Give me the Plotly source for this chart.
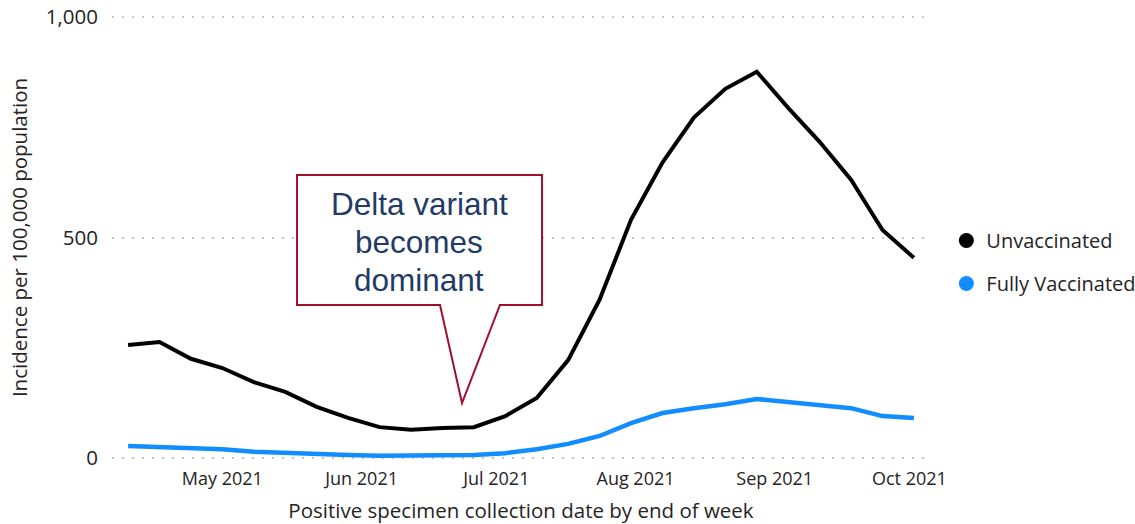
import plotly.graph_objects as go

# Weekly incidence per 100,000 (week ending Saturday)
weeks = [
    "2021-04-10", "2021-04-17", "2021-04-24", "2021-05-01", "2021-05-08",
    "2021-05-15", "2021-05-22", "2021-05-29", "2021-06-05", "2021-06-12",
    "2021-06-19", "2021-06-26", "2021-07-03", "2021-07-10", "2021-07-17",
    "2021-07-24", "2021-07-31", "2021-08-07", "2021-08-14", "2021-08-21",
    "2021-08-28", "2021-09-04", "2021-09-11", "2021-09-18", "2021-09-25",
    "2021-10-02",
]
unvaccinated = [
    256, 263, 225, 204, 172, 150, 116, 91, 70, 64, 68, 70, 95,
    136, 222, 359, 540, 670, 772, 837, 876, 794, 717, 631, 517, 454,
]
fully_vaccinated = [
    27, 25, 23, 20, 14, 11, 9, 7, 5, 5, 5, 7, 11,
    20, 32, 50, 79, 102, 113, 122, 134, 127, 120, 113, 95, 91,
]
month_ticks = ["2021-05-01", "2021-06-01", "2021-07-01", "2021-08-01", "2021-09-01", "2021-10-01"]
y_ticks = [0, 500, 1000]
callout_lines = ["Delta variant", "becomes", "dominant"]

font = "Segoe UI, Open Sans, sans-serif"
text_col = "#252423"

fig = go.Figure()

fig.add_trace(go.Scatter(
    x=weeks, y=unvaccinated, mode="lines",
    line=dict(color="#000000", width=4), showlegend=False, hoverinfo="skip",
))
fig.add_trace(go.Scatter(
    x=weeks, y=fully_vaccinated, mode="lines",
    line=dict(color="#118DFF", width=4.5), showlegend=False, hoverinfo="skip",
))

# legend entries as circles
for name, col in [("Unvaccinated", "#000000"), ("Fully Vaccinated", "#118DFF")]:
    fig.add_trace(go.Scatter(
        x=[None], y=[None], mode="markers", name=name, legendgroup=name,
        marker=dict(color=col, size=15, symbol="circle"),
    ))

# callout box for Delta (paper coords)
fig.add_shape(
    type="path", xref="paper", yref="paper",
    path=("M 0.2262,0.6404 L 0.5257,0.6404 L 0.5257,0.3483 L 0.4743,0.3483 "
          "L 0.4279,0.1281 L 0.4010,0.3483 L 0.2262,0.3483 Z"),
    fillcolor="white", line=dict(color="#A0102E", width=2), layer="above",
)
for line_txt, ly in zip(callout_lines, [0.5753, 0.4899, 0.4045]):
    fig.add_annotation(
        xref="paper", yref="paper", x=0.3759, y=ly, yanchor="middle",
        text=line_txt, showarrow=False,
        font=dict(family="Arial, Liberation Sans", size=31.5, color="#1F3B66"),
    )

fig.update_layout(
    width=1135, height=524,
    margin=dict(l=112, r=205, t=15, b=64, autoexpand=False),
    paper_bgcolor="white", plot_bgcolor="white",
    font=dict(family=font, color=text_col, size=18),
    legend=dict(
        x=1.02, y=0.445, xanchor="left", yanchor="middle",
        font=dict(size=20, color=text_col), tracegroupgap=14,
        itemwidth=30,
    ),
    xaxis=dict(
        range=["2021-04-06 10:00", "2021-10-05 14:00"],
        tickvals=month_ticks, tickformat="%b %Y",
        showgrid=False, showline=False, zeroline=False, automargin=False,
        ticklabelstandoff=6,
        tickfont=dict(size=18, color=text_col),
        title=dict(text="Positive specimen collection date by end of week",
                   font=dict(size=20.5, color=text_col), standoff=14),
    ),
    yaxis=dict(
        range=[-4.5, 1004.5], tickvals=y_ticks, tickformat=",",
        showgrid=True, gridcolor="#C8C6C4", griddash="2px,8px", gridwidth=1.5,
        zeroline=False, showline=False, automargin=False,
        ticklabelstandoff=13,
        tickfont=dict(size=20.5, color=text_col),
        title=dict(text="Incidence per 100,000 population",
                   font=dict(size=20.5, color=text_col), standoff=12),
    ),
)

fig.write_html("out.html", config={"displayModeBar": False},
               post_script="document.body.style.margin='0';")
